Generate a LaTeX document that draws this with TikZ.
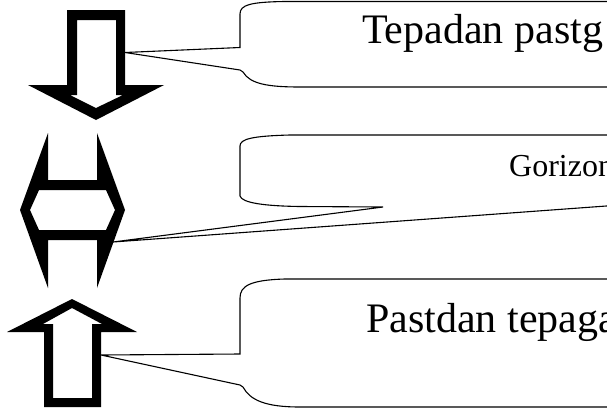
\documentclass[tikz,border=0pt]{standalone}
\usepackage{fontspec}
\setmainfont{Liberation Serif}
\tikzset{
  callout/.style={draw=black, line width=1.1pt, line join=miter},
  blockarrow/.style={fill=black, even odd rule},
  bigtext/.style={inner sep=0pt, anchor=base west, font=\fontsize{42}{50}\selectfont},
  smalltext/.style={inner sep=0pt, anchor=base west, font=\fontsize{32}{38}\selectfont}
}
\begin{document}
\begin{tikzpicture}[x=1pt,y=-1pt]
        \useasboundingbox (0,0) rectangle (607,410);
        \clip (0,0) rectangle (607,410);

        % pointer tips on the arrows
        \coordinate (downtip) at (125,52.5);
        \coordinate (sidetip) at (113,242);
        \coordinate (uptip) at (101,355);

        % down arrow
        \fill[blockarrow] (67,10)--(125,10)--(125,85)--(164,85)--(96,120)--(28,85)--(67,85)--cycle
            (77,20)--(116,20)--(116,95)--(123,95)--(96,108)--(70,95)--(77,95)--cycle;
        % left-right arrow
        \fill[blockarrow] (48,133)--(48,180)--(97,180)--(97,133)--(125,210)--(97,288)--(97,240)--(48,240)--(48,288)--(20,210)--cycle
            (30,210)--(39,190)--(106,190)--(115,210)--(106,230)--(39,230)--cycle;
        % up arrow
        \fill[blockarrow] (72,299)--(137,332)--(101,332)--(101,407)--(44,407)--(44,332)--(7,332)--cycle
            (72,308)--(102,324)--(92,324)--(92,398)--(53,398)--(53,324)--(43,324)--cycle;

        % callouts
        \draw[callout] (620,1.5) -- (285,1.5) .. controls (250,2) and (240,5) .. (240,14) -- (240,47.5)
            -- (downtip) -- (240,70) -- (243,72) .. controls (250,84) and (268,87) .. (300,87) -- (620,87);
        \draw[callout] (620,135) -- (290,135) .. controls (252,136) and (240,139) .. (240,146) -- (240,196)
            .. controls (242,203) and (265,206) .. (300,206.5) -- (383,207) -- (sidetip) -- (620,205);
        \draw[callout] (620,279) -- (285,279) .. controls (250,280) and (240,286) .. (240,298) -- (240,354)
            -- (uptip) -- (240,385) -- (243,387) .. controls (250,400) and (265,407) .. (300,407) -- (620,407);

        \node[bigtext] (down) at (362,43) {Tepadan pastg};
        \node[smalltext] (side) at (509,176) {Gorizontal};
        \node[bigtext] (up) at (366,332) {Pastdan tepaga};
\end{tikzpicture}
\end{document}
